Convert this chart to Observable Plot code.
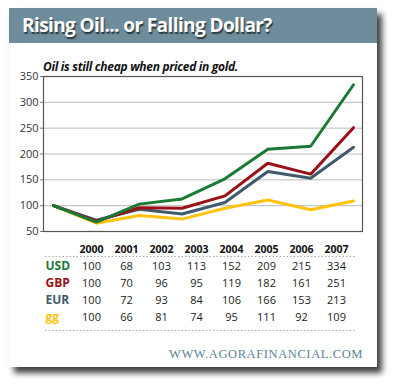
<!DOCTYPE html>
<html><head><meta charset="utf-8">
<script src="https://cdn.jsdelivr.net/npm/d3@7"></script>
<script src="https://cdn.jsdelivr.net/npm/@observablehq/plot@0.6"></script>
<style>
html,body{margin:0;padding:0;background:#fff;width:400px;height:392px;overflow:hidden;}
#card{position:absolute;left:9px;top:8px;width:368px;height:359px;background:#fff;box-shadow:5px 6px 6px rgba(0,0,0,0.75);}
#head{position:absolute;left:0;top:0;width:368px;height:35px;background:#6e8c9b;}
#title{position:absolute;left:13px;top:4px;font-family:"Open Sans",sans-serif;font-weight:700;font-size:19px;color:#fff;text-shadow:1px 1.5px 1px #2a3a42;letter-spacing:-0.6px;white-space:nowrap;}
#sub{position:absolute;left:34px;top:50px;font-family:"Open Sans",sans-serif;font-weight:700;font-style:italic;font-size:12px;color:#111;letter-spacing:-0.3px;white-space:nowrap;}
#chart{position:absolute;left:0;top:58px;}
#table{position:absolute;left:0;top:228px;}
#foot{position:absolute;right:14px;top:339px;font-family:"Liberation Serif",serif;font-size:12.5px;color:#5e8296;letter-spacing:0.6px;white-space:nowrap;}
</style></head>
<body>
<div id="card">
  <div id="head"><div id="title">Rising Oil... or Falling Dollar?</div></div>
  <div id="sub">Oil is still cheap when priced in gold.</div>
  <div id="chart"></div>
  <div id="table"></div>
  <div id="foot">WWW.AGORAFINANCIAL.COM</div>
</div>
<script>
const years = [2000, 2001, 2002, 2003, 2004, 2005, 2006, 2007];
const usd = [100, 68, 103, 113, 152, 209, 215, 334];
const gbp = [100, 70, 96, 95, 119, 182, 161, 251];
const eur = [100, 72, 93, 84, 106, 166, 153, 213];
const gg  = [100, 66, 81, 74, 95, 111, 92, 109];
const seriesNames = ["gg", "EUR", "GBP", "USD"];
const seriesValues = {USD: usd, GBP: gbp, EUR: eur, gg: gg};
const colors = {USD: "#1a7a35", GBP: "#9a1016", EUR: "#3f5b6b", gg: "#ffc20e"};
const yTicks = [50, 100, 150, 200, 250, 300, 350];

const rows = [];
for (const s of seriesNames) years.forEach((yr, i) => rows.push({series: s, year: yr, value: seriesValues[s][i]}));

const chart = Plot.plot({
  width: 368, height: 171,
  marginLeft: 34, marginRight: 15, marginTop: 10, marginBottom: 6,
  style: {fontFamily: "'Open Sans', sans-serif", fontSize: "11px", color: "#333", background: "transparent", overflow: "visible"},
  x: {domain: [2000, 2007], insetLeft: 10, insetRight: 9, axis: null},
  y: {domain: [50, 350], ticks: yTicks, label: null, tickSize: 3, tickPadding: 2},
  marks: [
    Plot.gridY(yTicks.filter(t => t > 50 && t < 350), {stroke: "#bbb", strokeOpacity: 1}),
    Plot.frame({stroke: "#555", strokeWidth: 1.2}),
    Plot.axisY({ticks: yTicks, tickSize: 3, tickPadding: 2, label: null, stroke: "#777"}),
    Plot.line(rows, {x: "year", y: "value", z: "series", stroke: d => colors[d.series], strokeWidth: 3, strokeLinejoin: "miter"})
  ]
});
document.getElementById("chart").appendChild(chart);

const tableNames = ["USD", "GBP", "EUR", "gg"];
const cells = [];
for (const s of tableNames) years.forEach((yr, i) => cells.push({row: s, year: yr, value: seriesValues[s][i]}));
const table = Plot.plot({
  width: 368, height: 100,
  marginLeft: 80, marginRight: 40, marginTop: 12, marginBottom: 19,
  style: {fontFamily: "'Open Sans', sans-serif", background: "transparent"},
  x: {type: "point", domain: years, padding: 0, axis: null},
  y: {type: "point", domain: ["yr", ...tableNames], padding: 0, axis: null},
  marks: [
    Plot.ruleY(["yr"], {dy: 7, insetLeft: -44, insetRight: -18, stroke: "#aaa", strokeDasharray: "1.5,2"}),
    Plot.ruleY(["gg"], {dy: 13, insetLeft: -44, insetRight: -18, stroke: "#aaa", strokeDasharray: "1.5,2"}),
    Plot.text(years, {x: d => d, y: () => "yr", text: d => String(d), fontWeight: 700, fontSize: 10.5, fill: "#111"}),
    Plot.text(tableNames, {y: d => d, frameAnchor: "left", dx: -44, textAnchor: "start", text: d => d, fontWeight: 700, fontSize: 12, fill: d => colors[d]}),
    Plot.text(cells, {x: "year", y: "row", text: d => String(d.value), fontSize: 11, fill: "#222"})
  ]
});
document.getElementById("table").appendChild(table);
</script>
</body></html>
